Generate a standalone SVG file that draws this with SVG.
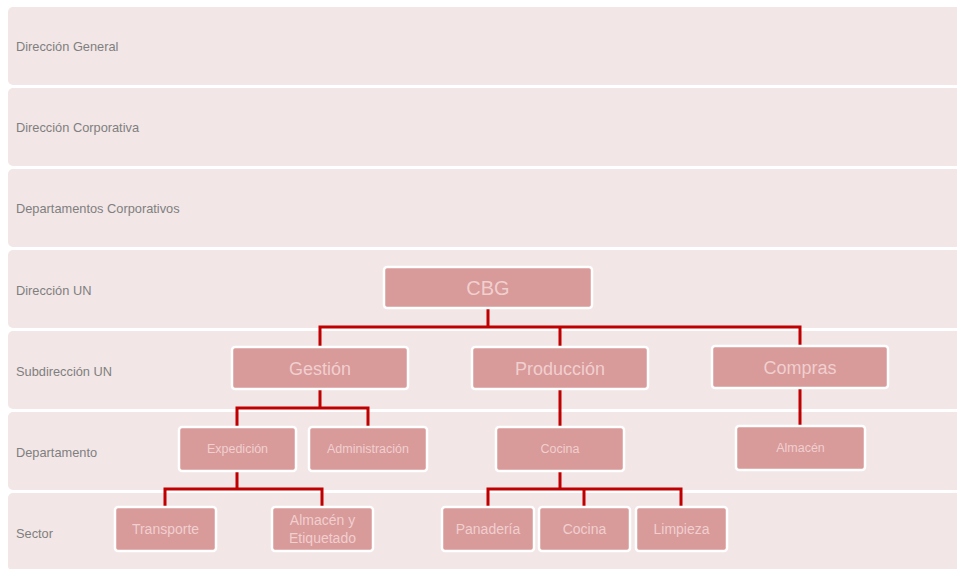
<svg xmlns="http://www.w3.org/2000/svg" width="957" height="569" viewBox="0 0 957 569">
<style>
.band{fill:#F2E6E6}
.bl{font-family:"Liberation Sans",Arial,sans-serif;font-size:12.8px;fill:#7F7F7F}
.node rect{fill:#D99A9A;stroke:#FFFFFF;stroke-width:2.5}
.node text{font-family:"Liberation Sans",Arial,sans-serif;fill:#F0CFCF;text-anchor:middle}
.lg{font-size:18px}
.xl{font-size:20px}
.md{font-size:14px}
.sm{font-size:12.5px}
.conn path{fill:none;stroke:#C00000;stroke-width:3}
</style>
<rect width="957" height="569" fill="#FFFFFF"/>
<g id="bands">
<rect class="band" x="8" y="7" width="970" height="78" rx="5"/>
<rect class="band" x="8" y="88" width="970" height="78" rx="5"/>
<rect class="band" x="8" y="169" width="970" height="78" rx="5"/>
<rect class="band" x="8" y="250" width="970" height="78" rx="5"/>
<rect class="band" x="8" y="331" width="970" height="78" rx="5"/>
<rect class="band" x="8" y="412" width="970" height="78" rx="5"/>
<rect class="band" x="8" y="493" width="970" height="78" rx="5"/>
<text class="bl" x="16" y="51">Dirección General</text>
<text class="bl" x="16" y="132">Dirección Corporativa</text>
<text class="bl" x="16" y="213">Departamentos Corporativos</text>
<text class="bl" x="16" y="295">Dirección UN</text>
<text class="bl" x="16" y="376">Subdirección UN</text>
<text class="bl" x="16" y="457">Departamento</text>
<text class="bl" x="16" y="538">Sector</text>
</g>
<g class="conn" id="connectors">
<path d="M488 308V327M320 347V327H800V346M560 327V347"/>
<path d="M320 389V408M237 427V408H368V427"/>
<path d="M560 389V427"/>
<path d="M800 388V426"/>
<path d="M237 471V489M165 507V489H322V507"/>
<path d="M560 471V489M488 507V489H681V507M584 489V507"/>
</g>
<g class="node" id="cbg"><rect x="384" y="267" width="208" height="41" rx="3"/><text class="xl" x="488" y="295">CBG</text></g>
<g class="node" id="gestion"><rect x="232" y="347" width="176" height="42" rx="3"/><text class="lg" x="320" y="375">Gestión</text></g>
<g class="node" id="produccion"><rect x="472" y="347" width="176" height="42" rx="3"/><text class="lg" x="560" y="375">Producción</text></g>
<g class="node" id="compras"><rect x="712" y="346" width="176" height="42" rx="3"/><text class="lg" x="800" y="374">Compras</text></g>
<g class="node" id="expedicion"><rect x="179" y="427" width="117" height="44" rx="3"/><text class="sm" x="237.5" y="453">Expedición</text></g>
<g class="node" id="administracion"><rect x="309" y="427" width="118" height="44" rx="3"/><text class="sm" x="368" y="453">Administración</text></g>
<g class="node" id="cocina-dep"><rect x="496" y="427" width="128" height="44" rx="3"/><text class="sm" x="560" y="453">Cocina</text></g>
<g class="node" id="almacen"><rect x="736" y="426" width="129" height="44" rx="3"/><text class="sm" x="800.5" y="452">Almacén</text></g>
<g class="node" id="transporte"><rect x="115" y="507" width="101" height="44" rx="3"/><text class="md" x="165.5" y="534">Transporte</text></g>
<g class="node" id="almacen-etiquetado"><rect x="272" y="507" width="101" height="44" rx="3"/><text class="md" x="322.5" y="525">Almacén y</text><text class="md" x="322.5" y="543">Etiquetado</text></g>
<g class="node" id="panaderia"><rect x="442" y="507" width="92" height="44" rx="3"/><text class="md" x="488" y="534">Panadería</text></g>
<g class="node" id="cocina"><rect x="539" y="507" width="91" height="44" rx="3"/><text class="md" x="584.5" y="534">Cocina</text></g>
<g class="node" id="limpieza"><rect x="636" y="507" width="91" height="44" rx="3"/><text class="md" x="681.5" y="534">Limpieza</text></g>
</svg>
